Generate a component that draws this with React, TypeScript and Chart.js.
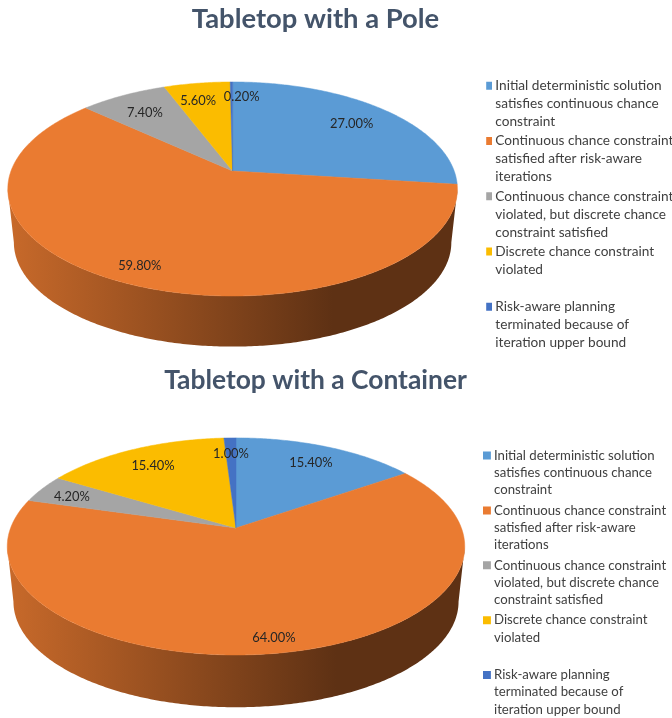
import React, { useEffect, useRef } from "react";
import { Chart, registerables } from "chart.js";

Chart.register(...registerables);

const categories: string[][] = [
  ["Initial deterministic solution", "satisfies continuous chance", "constraint"],
  ["Continuous chance constraint", "satisfied after risk-aware", "iterations"],
  ["Continuous chance constraint", "violated, but discrete chance", "constraint satisfied"],
  ["Discrete chance constraint", "violated", ""],
  ["Risk-aware planning", "terminated because of", "iteration upper bound"],
];
const poleValues = [27.0, 59.8, 7.4, 5.6, 0.2];
const containerValues = [15.4, 64.0, 4.2, 15.4, 1.0];
const sliceColors = ["#5b9bd5", "#ea7b31", "#a5a5a5", "#fbbc00", "#4472c4"];
const TITLE_COLOR = "#44546a";
const FONT = "Lato, Carlito, sans-serif";

type View = {
  title: string;
  titleSize: number;
  values: number[];
  cx: number;
  cy: number;
  r: number;
  a: number;
  c: number;
  wallDrop: number;
  legendLeft: number;
  legendTop: number;
  legendSize: number;
  legendLine: number;
  legendGap: number;
  titleTop: number;
  labelOffsets: number[][];
};

const poleView: View = {
  title: "Tabletop with a Pole",
  titleSize: 27.4,
  values: poleValues,
  cx: 232.6,
  cy: 171,
  r: 221.6,
  a: 104,
  c: -0.168,
  wallDrop: 54,
  legendLeft: 486.2,
  legendTop: 77.5,
  legendSize: 13.65,
  legendLine: 18,
  legendGap: 1.3,
  titleTop: 3,
  labelOffsets: [[-3, 3.5], [-8, 9], [2, 4], [-5, 2], [10, -1]],
};
const containerView: View = {
  title: "Tabletop with a Container",
  titleSize: 26.4,
  values: containerValues,
  cx: 236,
  cy: 169,
  r: 225.4,
  a: 105.4,
  c: -0.17,
  wallDrop: 55.7,
  legendLeft: 483,
  legendTop: 86.6,
  legendSize: 13.2,
  legendLine: 17.15,
  legendGap: 3.4,
  titleTop: 6,
  labelOffsets: [[0, 1], [4, 13.5], [-7, 1], [1, 2], [0, 0]],
};

const WALL_SCALE = 0.973;

function shade(hex: string, k: number) {
  const n = parseInt(hex.slice(1), 16);
  return `rgb(${Math.round(((n >> 16) & 255) * k)},${Math.round(((n >> 8) & 255) * k)},${Math.round((n & 255) * k)})`;
}

function makePlugin(v: View) {
  const project = (angle: number, f = 1) => {
    const u = Math.cos(angle) * f;
    const w = Math.sin(angle) * f;
    const den = 1 + v.c * w;
    return { x: v.cx + (v.r * u) / den, y: v.cy + (v.a * w) / den };
  };
  const wallPoint = (angle: number) => {
    const p = project(angle);
    return {
      x: v.cx + (p.x - v.cx) * WALL_SCALE,
      y: v.cy + (p.y - v.cy) * WALL_SCALE + v.wallDrop,
    };
  };
  const steps = (a0: number, a1: number) => Math.max(2, Math.ceil(Math.abs(a1 - a0) * 90));

  return {
    id: "perspectivePie",
    afterLayout(chart: any) {
      const t = chart.titleBlock;
      t.left = 0;
      t.right = 631;
      t.top = v.titleTop;
      t.bottom = v.titleTop + 40;
      const l = chart.legend;
      l.left = v.legendLeft;
      l.right = 672;
      l.top = v.legendTop;
      l.bottom = chart.height;
    },
    beforeDatasetsDraw(chart: any) {
      const ctx = chart.ctx;
      const arcs = chart.getDatasetMeta(0).data;
      const w0 = Math.asin(-v.c);
      const w1 = Math.PI - w0;
      // side wall
      arcs.forEach((arc: any) => {
        const a0 = Math.max(arc.startAngle, w0);
        const a1 = Math.min(arc.endAngle, w1);
        if (a1 <= a0) return;
        const base = arc.options.backgroundColor;
        const g = ctx.createLinearGradient(v.cx - v.r, 0, v.cx + 100, 0);
        g.addColorStop(0, shade(base, 0.85));
        g.addColorStop(1, shade(base, 0.4));
        const n = steps(a0, a1);
        ctx.beginPath();
        for (let i = 0; i <= n; i++) {
          const p = project(a0 + ((a1 - a0) * i) / n);
          i ? ctx.lineTo(p.x, p.y) : ctx.moveTo(p.x, p.y);
        }
        for (let i = n; i >= 0; i--) {
          const p = wallPoint(a0 + ((a1 - a0) * i) / n);
          ctx.lineTo(p.x, p.y);
        }
        ctx.closePath();
        ctx.fillStyle = g;
        ctx.fill();
      });
      // top face
      arcs.forEach((arc: any) => {
        const { startAngle: a0, endAngle: a1 } = arc;
        const n = steps(a0, a1);
        ctx.beginPath();
        ctx.moveTo(v.cx, v.cy);
        for (let i = 0; i <= n; i++) {
          const p = project(a0 + ((a1 - a0) * i) / n);
          ctx.lineTo(p.x, p.y);
        }
        ctx.closePath();
        ctx.fillStyle = arc.options.backgroundColor;
        ctx.strokeStyle = arc.options.backgroundColor;
        ctx.lineWidth = 0.5;
        ctx.fill();
        ctx.stroke();
      });
      // value labels
      ctx.save();
      ctx.font = `12.9px ${FONT}`;
      ctx.fillStyle = "#262626";
      ctx.textAlign = "center";
      ctx.textBaseline = "middle";
      arcs.forEach((arc: any, i: number) => {
        const mid = (arc.startAngle + arc.endAngle) / 2;
        const p = project(mid, 0.8);
        const [dx, dy] = v.labelOffsets[i];
        ctx.fillText(`${v.values[i].toFixed(2)}%`, p.x + dx, p.y + dy);
      });
      ctx.restore();
      return false;
    },
  };
}

function PieChart({ view, top }: { view: View; top: number }) {
  const ref = useRef<HTMLCanvasElement | null>(null);
  useEffect(() => {
    if (!ref.current) return;
    const baseLabels = (Chart as any).overrides.pie.plugins.legend.labels.generateLabels;
    const chart = new Chart(ref.current, {
      type: "pie",
      data: {
        labels: categories as any,
        datasets: [{ data: view.values, backgroundColor: sliceColors, borderWidth: 0 }],
      },
      options: {
        responsive: false,
        animation: false,
        plugins: {
          title: {
            display: true,
            text: view.title,
            color: TITLE_COLOR,
            padding: 0,
            font: { family: FONT, size: view.titleSize, weight: "bold" },
          },
          legend: {
            position: "right",
            align: "start",
            labels: {
              boxWidth: 1,
              boxHeight: 1,
              padding: view.legendGap,
              color: "#404040",
              font: { family: FONT, size: view.legendSize, lineHeight: view.legendLine / view.legendSize },
              generateLabels: (c: any) =>
                baseLabels(c).map((item: any) => ({
                  ...item,
                  strokeStyle: item.fillStyle,
                  lineWidth: 7,
                })),
            },
          },
          tooltip: { enabled: false },
        },
      },
      plugins: [makePlugin(view)],
    } as any);
    return () => chart.destroy();
  }, [view]);
  return (
    <canvas
      ref={ref}
      width={672}
      height={359}
      style={{ position: "absolute", left: 0, top, display: "block" }}
    />
  );
}

export default function App() {
  return (
    <div style={{ position: "absolute", left: 0, top: 0, width: 672, height: 718, overflow: "hidden", background: "#fff" }}>
      <PieChart view={poleView} top={0} />
      <PieChart view={containerView} top={359} />
    </div>
  );
}
